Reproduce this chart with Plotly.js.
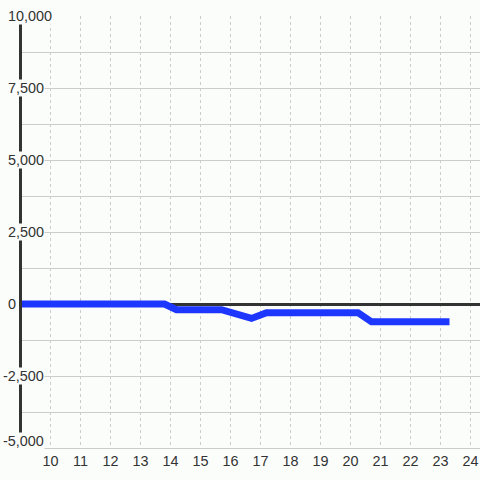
<!DOCTYPE html>
<html>
<head>
<meta charset="utf-8">
<script src="https://cdn.plot.ly/plotly-3.0.1.min.js"></script>
<style>
html,body{margin:0;padding:0;background:#fbfdfb;}
#chart{width:480px;height:480px;}
</style>
</head>
<body>
<div id="chart"></div>
<script>
// Data
var xValues = [9, 13.8, 14.2, 15.7, 16.7, 17.2, 20.25, 20.7, 23.3];
var yValues = [0, 0, -200, -200, -500, -300, -300, -620, -620];

var yTickVals = [-5000, -2500, 0, 2500, 5000, 7500, 10000];
var yTickText = ['-5,000', '-2,500', '0', '2,500', '5,000', '7,500', '10,000'];
var xTickVals = [10, 11, 12, 13, 14, 15, 16, 17, 18, 19, 20, 21, 22, 23, 24];
var xTickText = ['10', '11', '12', '13', '14', '15', '16', '17', '18', '19', '20', '21', '22', '23', '24'];

var BG = '#fbfdfb';
var FONT = 'Liberation Sans, Arial, sans-serif';
var W = 480, H = 480, ML = 22, MR = 0, MT = 16, MB = 32;
var plotW = W - ML - MR;
var pxPerUnit = 30;
var xStart = 10 - (50.5 - ML) / pxPerUnit;
var xEnd = xStart + plotW / pxPerUnit;
var yMin = -5000, yMax = 10000;

var annotations = yTickVals.map(function (v, i) {
  var neg = yTickText[i].charAt(0) === '-';
  return {
    xref: 'paper', yref: 'y',
    x: (7 - ML) / plotW, y: v,
    xanchor: 'left', yanchor: 'middle',
    xshift: neg ? -5 : 0,
    yshift: v === yMin ? 7 : 0,
    text: yTickText[i],
    showarrow: false,
    bgcolor: BG,
    borderpad: 0,
    font: {family: FONT, size: 14.4, color: '#333'}
  };
});

var trace = {
  x: xValues, y: yValues,
  type: 'scatter', mode: 'lines',
  line: {color: '#1e37ff', width: 7},
  hoverinfo: 'skip'
};

var layout = {
  width: W, height: H,
  margin: {l: ML, r: MR, t: MT, b: MB, pad: 0},
  paper_bgcolor: BG, plot_bgcolor: BG,
  showlegend: false,
  font: {family: FONT, size: 14.4, color: '#333'},
  xaxis: {
    range: [xStart, xEnd],
    tickvals: xTickVals, ticktext: xTickText,
    showgrid: true, gridcolor: '#cccccc', gridwidth: 1, griddash: 'dot',
    zeroline: false,
    showline: true, linecolor: '#cccccc', linewidth: 1,
    ticks: '', ticklen: 0,
    tickfont: {family: FONT, size: 14.4, color: '#333'}
  },
  yaxis: {
    range: [yMin, yMax],
    tickvals: yTickVals, showticklabels: false,
    showgrid: true, gridcolor: '#cccccc', gridwidth: 1,
    minor: {dtick: 1250, tick0: 0, showgrid: true, gridcolor: '#cccccc', gridwidth: 1, ticks: ''},
    zeroline: true, zerolinecolor: '#333333', zerolinewidth: 3,
    showline: true, linecolor: '#333333', linewidth: 3,
    ticks: ''
  },
  annotations: annotations
};

Plotly.newPlot('chart', [trace], layout, {displayModeBar: false, staticPlot: true});
</script>
</body>
</html>
